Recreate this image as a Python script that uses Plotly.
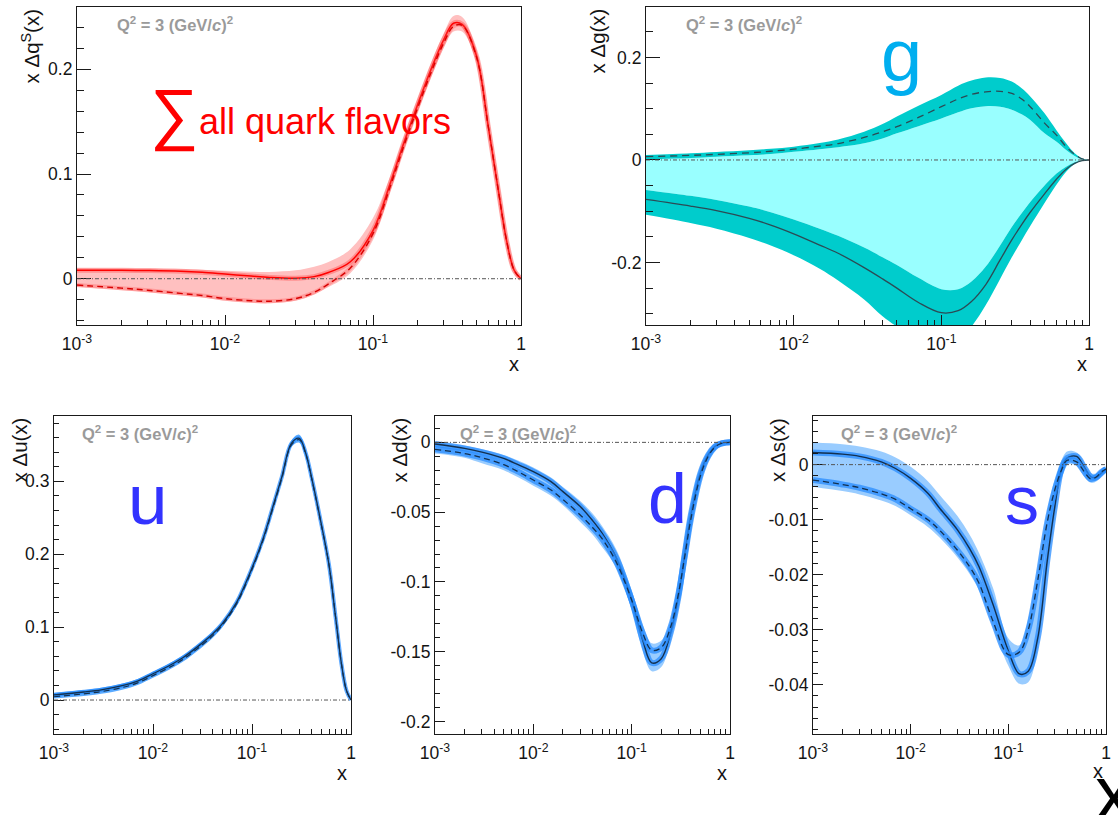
import plotly.graph_objects as go

W, H = 1118, 815
FONT = "Arial, 'Liberation Sans', Helvetica, sans-serif"

# ---------------- data ----------------
X = [0.001, 0.002, 0.003, 0.005, 0.007, 0.01, 0.015, 0.02, 0.03, 0.04, 0.05, 0.07,
     0.1, 0.13, 0.16, 0.2, 0.25, 0.3, 0.35, 0.4, 0.5, 0.6, 0.7, 0.8, 0.9, 1.0]

# Sum of all quark flavors
SIG_SOLID = [0.008, 0.008, 0.0078, 0.0072, 0.0062, 0.0045, 0.0025, 0.0012, 0.0005, 0.002, 0.006, 0.016,
             0.046, 0.090, 0.128, 0.166, 0.202, 0.228, 0.244, 0.243, 0.213, 0.146, 0.086, 0.036, 0.008, 0.0]
SIG_DASH = [-0.006, -0.009, -0.011, -0.014, -0.016, -0.019, -0.021, -0.0215, -0.019, -0.013, -0.005, 0.010,
            0.043, 0.087, 0.125, 0.163, 0.199, 0.225, 0.241, 0.242, 0.212, 0.146, 0.086, 0.036, 0.008, 0.0]
SIG_HI = [0.010, 0.0098, 0.0095, 0.009, 0.0085, 0.0077, 0.0067, 0.0065, 0.008, 0.0115, 0.016, 0.028,
          0.058, 0.097, 0.134, 0.172, 0.208, 0.234, 0.251, 0.250, 0.218, 0.150, 0.089, 0.038, 0.009, 0.0]
SIG_LO = [-0.008, -0.011, -0.013, -0.016, -0.018, -0.021, -0.023, -0.0235, -0.021, -0.015, -0.008, 0.005,
          0.037, 0.082, 0.121, 0.159, 0.194, 0.220, 0.236, 0.236, 0.207, 0.142, 0.083, 0.034, 0.007, 0.0]

# gluon
G_DASH = [0.0065, 0.009, 0.011, 0.014, 0.017, 0.021, 0.027, 0.032, 0.044, 0.055, 0.065, 0.083,
          0.104, 0.119, 0.128, 0.133, 0.134, 0.130, 0.119, 0.104, 0.072, 0.049, 0.026, 0.011, 0.002, 0.0]
G_UP_HI = [0.0098, 0.013, 0.0155, 0.019, 0.022, 0.026, 0.033, 0.040, 0.055, 0.070, 0.085, 0.106,
           0.127, 0.145, 0.155, 0.161, 0.160, 0.153, 0.140, 0.124, 0.091, 0.0585, 0.0325, 0.013, 0.003, 0.0]
G_UP_LO = [0.0013, 0.004, 0.0065, 0.009, 0.0115, 0.016, 0.021, 0.025, 0.0325, 0.042, 0.052, 0.066,
           0.081, 0.093, 0.101, 0.105, 0.104, 0.098, 0.089, 0.078, 0.052, 0.036, 0.0195, 0.008, 0.0015, 0.0]
G_SOLID = [-0.077, -0.090, -0.099, -0.114, -0.127, -0.144, -0.166, -0.182, -0.210, -0.232, -0.250, -0.278,
           -0.298, -0.294, -0.276, -0.243, -0.195, -0.156, -0.126, -0.102, -0.066, -0.038, -0.018, -0.0067, -0.0013, 0.0]
G_LO_HI = [-0.0585, -0.070, -0.078, -0.091, -0.102, -0.116, -0.134, -0.148, -0.171, -0.190, -0.205, -0.230,
           -0.252, -0.252, -0.237, -0.208, -0.167, -0.131, -0.104, -0.082, -0.050, -0.027, -0.013, -0.0045, -0.001, 0.0]
G_LO_LO = [-0.107, -0.123, -0.134, -0.152, -0.167, -0.186, -0.212, -0.235, -0.272, -0.305, -0.325, -0.350,
           -0.362, -0.352, -0.325, -0.283, -0.232, -0.190, -0.157, -0.129, -0.084, -0.049, -0.023, -0.008, -0.0015, 0.0]

# u quark
U_SOLID = [0.007, 0.0110, 0.0140, 0.0200, 0.0260, 0.0360, 0.0480, 0.0580, 0.0760, 0.0905, 0.1045, 0.134,
           0.181, 0.222, 0.262, 0.306, 0.352, 0.359, 0.338, 0.305, 0.242, 0.185, 0.113, 0.050, 0.013, 0.0]
U_DASH = [0.0045, 0.0085, 0.0115, 0.0175, 0.0235, 0.0335, 0.0455, 0.0555, 0.0735, 0.0880, 0.1025, 0.132,
          0.179, 0.220, 0.260, 0.304, 0.350, 0.357, 0.337, 0.304, 0.241, 0.185, 0.113, 0.050, 0.013, 0.0]
U_HI = [0.010, 0.0140, 0.0170, 0.0230, 0.0290, 0.0390, 0.0510, 0.0610, 0.0790, 0.0935, 0.1075, 0.137,
        0.184, 0.225, 0.265, 0.309, 0.356, 0.364, 0.343, 0.309, 0.245, 0.188, 0.115, 0.051, 0.013, 0.0]
U_LO = [0.002, 0.0055, 0.0085, 0.0145, 0.0205, 0.0305, 0.0425, 0.0525, 0.0705, 0.0850, 0.0995, 0.129,
        0.176, 0.217, 0.257, 0.301, 0.347, 0.353, 0.333, 0.301, 0.238, 0.182, 0.111, 0.049, 0.012, 0.0]

# d quark
D_SOLID = [-0.0012, -0.0043, -0.007, -0.0115, -0.016, -0.021, -0.028, -0.0353, -0.046, -0.056, -0.065, -0.083,
           -0.113, -0.142, -0.158, -0.155, -0.136, -0.110, -0.078, -0.052, -0.022, -0.009, -0.003, -0.001, -0.0002, 0.0]
D_DASH = [-0.005, -0.008, -0.011, -0.016, -0.021, -0.027, -0.034, -0.041, -0.052, -0.061, -0.069, -0.086,
          -0.113, -0.137, -0.149, -0.147, -0.132, -0.108, -0.080, -0.055, -0.024, -0.010, -0.0035, -0.001, -0.0002, 0.0]
D_HI = [0.0005, -0.0025, -0.005, -0.009, -0.013, -0.018, -0.025, -0.032, -0.042, -0.051, -0.060, -0.077,
        -0.106, -0.131, -0.144, -0.142, -0.128, -0.104, -0.074, -0.048, -0.020, -0.008, -0.0025, -0.0007, -0.0001, 0.0]
D_LO = [-0.008, -0.011, -0.015, -0.020, -0.025, -0.031, -0.038, -0.045, -0.057, -0.066, -0.075, -0.090,
        -0.120, -0.150, -0.164, -0.161, -0.142, -0.115, -0.085, -0.058, -0.026, -0.011, -0.004, -0.0013, -0.0003, 0.0]

# s quark
S_SOLID = [0.0022, 0.0019, 0.0015, 0.0005, -0.0007, -0.0025, -0.0052, -0.0080, -0.0118, -0.0152, -0.0185, -0.0255,
           -0.0338, -0.0380, -0.0375, -0.0315, -0.0175, -0.0075, -0.0008, 0.0012, 0.0015, -0.0005, -0.0022, -0.0023, -0.0015, -0.0008]
S_DASH = [-0.0028, -0.0036, -0.0042, -0.0053, -0.0063, -0.0080, -0.0100, -0.0120, -0.0155, -0.0185, -0.0215, -0.0285,
          -0.0345, -0.0340, -0.0300, -0.0210, -0.0105, -0.0045, -0.0010, 0.0008, 0.0005, -0.0013, -0.0026, -0.0022, -0.0013, -0.0008]
S_HI = [0.0040, 0.0037, 0.0033, 0.0024, 0.0013, -0.0004, -0.0030, -0.0056, -0.0093, -0.0127, -0.0160, -0.0225,
        -0.0315, -0.0328, -0.0280, -0.0190, -0.0085, -0.0025, 0.0008, 0.0024, 0.0022, 0.0003, -0.0015, -0.0016, -0.0009, -0.0003]
S_LO = [-0.0040, -0.0048, -0.0054, -0.0065, -0.0075, -0.0092, -0.0113, -0.0133, -0.0168, -0.0198, -0.0228, -0.0295,
        -0.0365, -0.0398, -0.0395, -0.0333, -0.0195, -0.0092, -0.0022, 0.0000, -0.0002, -0.0022, -0.0033, -0.0030, -0.0021, -0.0013]

# tick labels
X_TICKS = [0.001, 0.01, 0.1, 1.0]
X_TICKTEXT = ["10<sup>-3</sup>", "10<sup>-2</sup>", "10<sup>-1</sup>", "1"]
MINOR_X = [m * d for d in (0.001, 0.01, 0.1) for m in range(2, 10)]

Y1_TICKS, Y1_TEXT = [0, 0.1, 0.2], ["0", "0.1", "0.2"]
Y2_TICKS, Y2_TEXT = [-0.2, 0, 0.2], ["-0.2", "0", "0.2"]
Y3_TICKS, Y3_TEXT = [0, 0.1, 0.2, 0.3], ["0", "0.1", "0.2", "0.3"]
Y4_TICKS, Y4_TEXT = [-0.2, -0.15, -0.1, -0.05, 0], ["-0.2", "-0.15", "-0.1", "-0.05", "0"]
Y5_TICKS, Y5_TEXT = [-0.04, -0.03, -0.02, -0.01, 0], ["-0.04", "-0.03", "-0.02", "-0.01", "0"]

# ---------------- layout helpers ----------------
fig = go.Figure()


def pxx(v):
    return v / W


def pxy(v):
    return 1 - v / H


def ax_id(i):
    return ("x", "y") if i == 1 else (f"x{i}", f"y{i}")


def add_panel(i, xpx, ypx, yrange, yticks, ytext, ydt, ymaj, ymin):
    xk = "xaxis" if i == 1 else f"xaxis{i}"
    yk = "yaxis" if i == 1 else f"yaxis{i}"
    xa, ya = ax_id(i)
    common = dict(showline=True, mirror=True, linecolor="#1a1a1a", linewidth=1.2,
                  showgrid=False, zeroline=False, ticks="inside", tickcolor="#1a1a1a",
                  tickwidth=1, tickfont=dict(family=FONT, size=17.5, color="#141414"),
                  fixedrange=True, automargin=False)
    fig.layout[xk] = dict(common, domain=[pxx(xpx[0]), pxx(xpx[1])], anchor=ya, type="log",
                          range=[-3, 0], tickmode="array", tickvals=X_TICKS, ticktext=X_TICKTEXT,
                          ticklen=10, ticklabelstandoff=3,
                          minor=dict(tickmode="array", tickvals=MINOR_X, ticks="inside",
                                     ticklen=5, tickcolor="#1a1a1a", tickwidth=1))
    fig.layout[yk] = dict(common, domain=[pxy(ypx[1]), pxy(ypx[0])], anchor=xa,
                          range=list(yrange), tickmode="array", tickvals=yticks, ticktext=ytext,
                          ticklen=ymaj,
                          minor=dict(tickmode="linear", tick0=0, dtick=ydt, ticks="inside",
                                     ticklen=ymin, tickcolor="#1a1a1a", tickwidth=1))
    fig.add_shape(type="line", xref=f"{xa} domain", yref=ya, x0=0, x1=1, y0=0, y1=0,
                  line=dict(color="#555", width=1, dash="4px,2px,1px,2px"), layer="above")


def band(i, lo, hi, color):
    xa, ya = ax_id(i)
    fig.add_trace(go.Scatter(x=X, y=lo, xaxis=xa, yaxis=ya, mode="lines",
                             line=dict(width=0, shape="spline", color=color), hoverinfo="skip"))
    fig.add_trace(go.Scatter(x=X, y=hi, xaxis=xa, yaxis=ya, mode="lines", fill="tonexty",
                             fillcolor=color, line=dict(width=0, shape="spline", color=color),
                             hoverinfo="skip"))


def curve(i, y, color, dash=None, width=1.4, halo=None, halo_w=5):
    xa, ya = ax_id(i)
    if halo:
        fig.add_trace(go.Scatter(x=X, y=y, xaxis=xa, yaxis=ya, mode="lines",
                                 line=dict(width=halo_w, shape="spline", color=halo),
                                 hoverinfo="skip"))
    fig.add_trace(go.Scatter(x=X, y=y, xaxis=xa, yaxis=ya, mode="lines",
                             line=dict(width=width, shape="spline", color=color, dash=dash),
                             hoverinfo="skip"))


# panel geometry (pixels)
P = {
    1: dict(xpx=(77, 521), ypx=(7, 325), yrange=(-0.0442, 0.2595)),
    2: dict(xpx=(646, 1089), ypx=(7, 325), yrange=(-0.322, 0.2985)),
    3: dict(xpx=(54, 351), ypx=(416, 734), yrange=(-0.0466, 0.3896)),
    4: dict(xpx=(435, 730), ypx=(416, 734), yrange=(-0.209, 0.0189)),
    5: dict(xpx=(813, 1106), ypx=(416, 734), yrange=(-0.0489, 0.00883)),
}

add_panel(1, **P[1], yticks=Y1_TICKS, ytext=Y1_TEXT, ydt=0.02, ymaj=14, ymin=7)
add_panel(2, **P[2], yticks=Y2_TICKS, ytext=Y2_TEXT, ydt=0.05, ymaj=14, ymin=7)
add_panel(3, **P[3], yticks=Y3_TICKS, ytext=Y3_TEXT, ydt=0.02, ymaj=10, ymin=5)
add_panel(4, **P[4], yticks=Y4_TICKS, ytext=Y4_TEXT, ydt=0.01, ymaj=10, ymin=5)
add_panel(5, **P[5], yticks=Y5_TICKS, ytext=Y5_TEXT, ydt=0.002, ymaj=10, ymin=5)

# panel 1: sum of quarks (red)
band(1, SIG_LO, SIG_HI, "#FFC0C0")
curve(1, SIG_SOLID, "#FF0000", halo="rgba(255,70,70,0.4)", halo_w=5, width=1.5)
curve(1, SIG_DASH, "#D80000", dash="6px,4px", halo="rgba(255,70,70,0.3)", halo_w=4, width=1.4)

# panel 2: gluon (cyan)
band(2, G_LO_HI, G_UP_LO, "#99FFFF")
band(2, G_UP_LO, G_UP_HI, "#00CCCC")
band(2, G_LO_LO, G_LO_HI, "#00CCCC")
curve(2, G_DASH, "#2B4B55", dash="7px,5px", width=1.3)
curve(2, G_SOLID, "#2B4B55", width=1.3)

# panels 3-5: u, d, s (blue)
BLUE_LIGHT = "#99CCFF"
HALO = "rgba(40,140,255,0.75)"
LINE = "#13304F"
band(3, U_LO, U_HI, "#5AAAFF")
curve(3, U_SOLID, LINE, halo=HALO, halo_w=4, width=1.3)
curve(3, U_DASH, LINE, dash="6px,4px", width=1.2)

band(4, D_LO, D_HI, BLUE_LIGHT)
curve(4, D_SOLID, LINE, halo=HALO, halo_w=6, width=1.4)
curve(4, D_DASH, LINE, dash="6px,4px", halo=HALO, halo_w=6, width=1.3)

band(5, S_LO, S_HI, BLUE_LIGHT)
curve(5, S_SOLID, LINE, halo=HALO, halo_w=6, width=1.4)
curve(5, S_DASH, LINE, dash="6px,4px", halo=HALO, halo_w=6, width=1.3)

# ---------------- annotations ----------------
ann = []


def text(x, y, s, size, color, xanchor="left", yanchor="middle", angle=0, family=FONT):
    ann.append(dict(x=pxx(x), y=pxy(y), xref="paper", yref="paper", text=s, showarrow=False,
                    xanchor=xanchor, yanchor=yanchor, textangle=angle,
                    font=dict(family=family, size=size, color=color)))


Q2 = "<b>Q<sup>2</sup> = 3 (GeV/<i>c</i>)<sup>2</sup></b>"
for (qx, qy) in [(115, 24), (684, 24), (80, 433), (458, 433), (839, 433)]:
    text(qx, qy, Q2, 16.5, "#9a9a9a")

# y titles (rotated)
ytitles = [(31, 7, "x Δq<sup>S</sup>(x)"), (597, 7, "x Δg(x)"), (19, 416, "x Δu(x)"),
           (399, 416, "x Δd(x)"), (777, 416, "x Δs(x)")]
for (tx, ty, s) in ytitles:
    text(tx, ty, s, 20.5, "#141414", xanchor="center", yanchor="top", angle=-90)

# x titles
for (tx, ty) in [(514, 364), (1082, 364), (342, 773), (722, 773), (1098, 771)]:
    text(tx, ty, "x", 20, "#141414", xanchor="center")

# big labels
text(174, 114, "∑", 68, "#FF0000", xanchor="center")
text(197, 121, "all quark flavors", 36, "#FF0000")
text(901, 55, "g", 74, "#00AEEF", xanchor="center")
text(148, 499, "u", 71, "#3333FF", xanchor="center")
text(667, 499, "d", 70, "#3333FF", xanchor="center")
text(1022, 500, "s", 68, "#3333FF", xanchor="center")
text(1093, 792, "x", 76, "#000000")

fig.update_layout(width=W, height=H, margin=dict(l=0, r=0, t=0, b=0),
                  paper_bgcolor="white", plot_bgcolor="white", showlegend=False,
                  annotations=ann)

fig.write_html("out.html")
